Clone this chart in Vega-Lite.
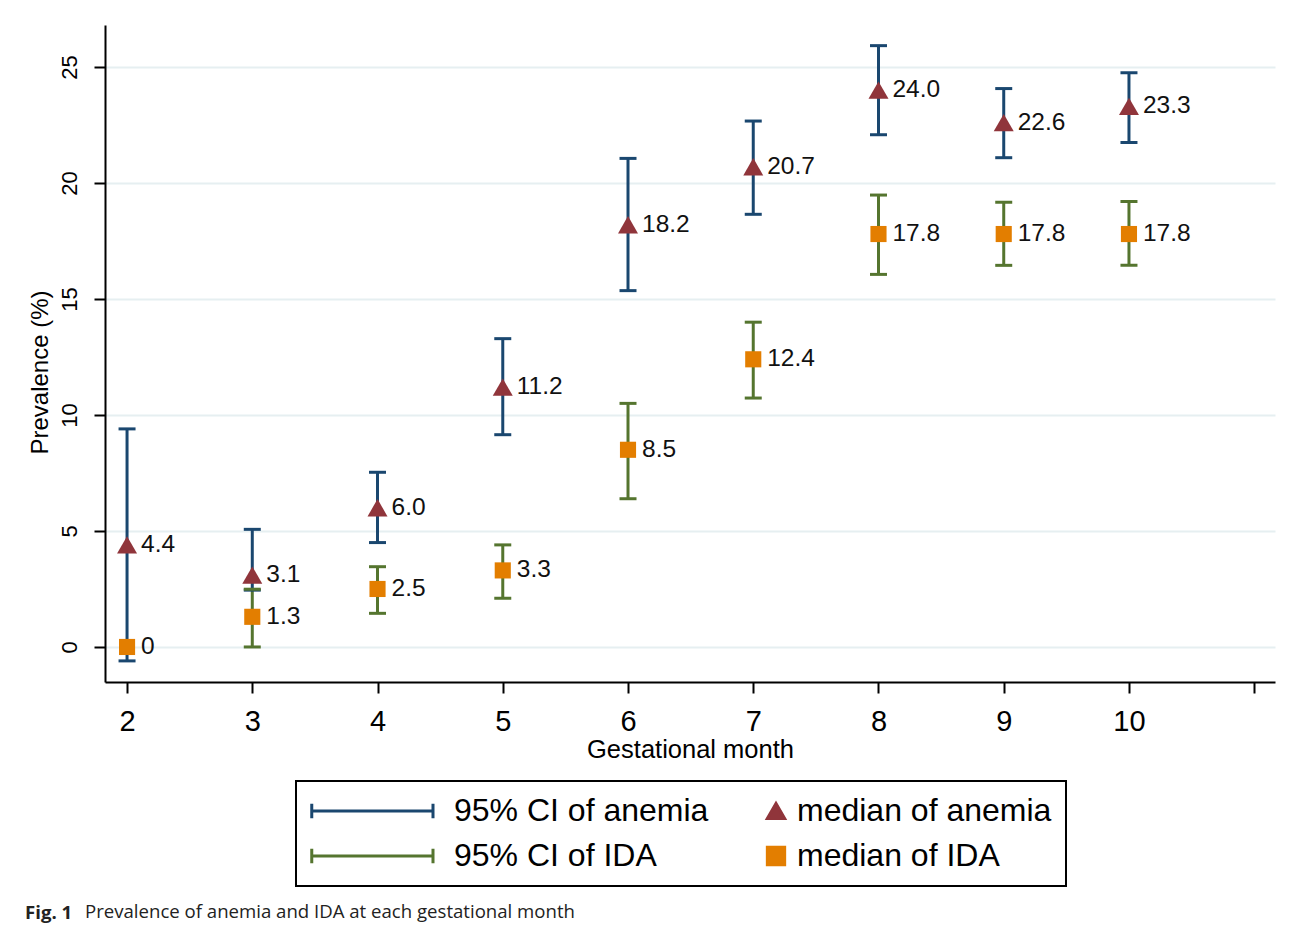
{
  "$schema": "https://vega.github.io/schema/vega-lite/v6.json",
  "width": 1170,
  "height": 657,
  "autosize": {"type": "none"},
  "padding": {"left": 105, "top": 25, "right": 17, "bottom": 250},
  "background": "white",
  "config": {"view": {"stroke": null}, "font": "Liberation Sans"},
  "title": {
    "text": "Fig. 1",
    "subtitle": "Prevalence of anemia and IDA at each gestational month",
    "orient": "bottom",
    "anchor": "start",
    "frame": "group",
    "font": "Open Sans",
    "fontSize": 18.6,
    "fontWeight": "bold",
    "color": "#222222",
    "subtitleFont": "Open Sans",
    "subtitleFontSize": 18.6,
    "subtitleFontWeight": "normal",
    "subtitleColor": "#222222",
    "subtitlePadding": -20,
    "offset": 17,
    "dx": -80,
    "encode": {"subtitle": {"update": {"dx": {"value": -20}}}}
  },
  "datasets": {
    "ci": [
      {"month": 2, "series": "95% CI of anemia", "lo": -0.6, "hi": 9.4},
      {"month": 3, "series": "95% CI of anemia", "lo": 2.45, "hi": 5.07},
      {"month": 4, "series": "95% CI of anemia", "lo": 4.5, "hi": 7.53},
      {"month": 5, "series": "95% CI of anemia", "lo": 9.15, "hi": 13.29},
      {"month": 6, "series": "95% CI of anemia", "lo": 15.36, "hi": 21.06},
      {"month": 7, "series": "95% CI of anemia", "lo": 18.65, "hi": 22.67},
      {"month": 8, "series": "95% CI of anemia", "lo": 22.08, "hi": 25.92},
      {"month": 9, "series": "95% CI of anemia", "lo": 21.09, "hi": 24.07},
      {"month": 10, "series": "95% CI of anemia", "lo": 21.74, "hi": 24.75},
      {"month": 3, "series": "95% CI of IDA", "lo": 0, "hi": 2.49},
      {"month": 4, "series": "95% CI of IDA", "lo": 1.45, "hi": 3.46},
      {"month": 5, "series": "95% CI of IDA", "lo": 2.1, "hi": 4.4},
      {"month": 6, "series": "95% CI of IDA", "lo": 6.39, "hi": 10.5},
      {"month": 7, "series": "95% CI of IDA", "lo": 10.73, "hi": 14.0},
      {"month": 8, "series": "95% CI of IDA", "lo": 16.06, "hi": 19.48},
      {"month": 9, "series": "95% CI of IDA", "lo": 16.45, "hi": 19.17},
      {"month": 10, "series": "95% CI of IDA", "lo": 16.45, "hi": 19.2}
    ],
    "med": [
      {"month": 2, "series": "median of anemia", "val": 4.4, "lab": "4.4"},
      {"month": 3, "series": "median of anemia", "val": 3.1, "lab": "3.1"},
      {"month": 4, "series": "median of anemia", "val": 6.0, "lab": "6.0"},
      {"month": 5, "series": "median of anemia", "val": 11.2, "lab": "11.2"},
      {"month": 6, "series": "median of anemia", "val": 18.2, "lab": "18.2"},
      {"month": 7, "series": "median of anemia", "val": 20.7, "lab": "20.7"},
      {"month": 8, "series": "median of anemia", "val": 24.0, "lab": "24.0"},
      {"month": 9, "series": "median of anemia", "val": 22.6, "lab": "22.6"},
      {"month": 10, "series": "median of anemia", "val": 23.3, "lab": "23.3"},
      {"month": 2, "series": "median of IDA", "val": 0, "lab": "0"},
      {"month": 3, "series": "median of IDA", "val": 1.3, "lab": "1.3"},
      {"month": 4, "series": "median of IDA", "val": 2.5, "lab": "2.5"},
      {"month": 5, "series": "median of IDA", "val": 3.3, "lab": "3.3"},
      {"month": 6, "series": "median of IDA", "val": 8.5, "lab": "8.5"},
      {"month": 7, "series": "median of IDA", "val": 12.4, "lab": "12.4"},
      {"month": 8, "series": "median of IDA", "val": 17.8, "lab": "17.8"},
      {"month": 9, "series": "median of IDA", "val": 17.8, "lab": "17.8"},
      {"month": 10, "series": "median of IDA", "val": 17.8, "lab": "17.8"}
    ]
  },
  "layer": [
    {
      "data": {"name": "ci"},
      "mark": {"type": "rule", "strokeWidth": 3},
      "encoding": {
        "x": {
          "field": "month", "type": "quantitative",
          "scale": {"domain": [1.824, 11.166], "nice": false, "zero": false},
          "axis": {
            "values": [2, 3, 4, 5, 6, 7, 8, 9, 10, 11],
            "labelExpr": "datum.value == 11 ? '' : format(datum.value, 'd')",
            "title": "Gestational month",
            "grid": false,
            "tickSize": 11, "tickWidth": 2, "tickColor": "black",
            "domainColor": "black", "domainWidth": 2,
            "labelFontSize": 29, "labelPadding": 14, "labelColor": "black", "labelFont": "Liberation Sans",
            "titleFontSize": 25.5, "titleFontWeight": "normal", "titleColor": "black", "titleFont": "Liberation Sans",
            "titleY": 75, "titleBaseline": "alphabetic"
          }
        },
        "y": {
          "field": "lo", "type": "quantitative",
          "scale": {"domain": [-1.51, 26.81], "nice": false, "zero": false},
          "axis": {
            "values": [0, 5, 10, 15, 20, 25],
            "title": "Prevalence (%)",
            "grid": true, "gridColor": "#e6eff1", "gridWidth": 2,
            "tickSize": 11, "tickWidth": 2, "tickColor": "black",
            "domainColor": "black", "domainWidth": 2,
            "labelAngle": -90, "labelAlign": "center", "labelBaseline": "bottom",
            "labelFontSize": 22, "labelPadding": 13, "labelColor": "black", "labelFont": "Liberation Sans",
            "titleFontSize": 24, "titleFontWeight": "normal", "titleColor": "black", "titleFont": "Liberation Sans",
            "titleAngle": -90, "titleX": -65, "titleY": 347, "titleAlign": "center", "titleBaseline": "middle"
          }
        },
        "y2": {"field": "hi"},
        "color": {
          "field": "series", "type": "nominal",
          "scale": {"domain": ["95% CI of anemia", "95% CI of IDA", "median of anemia", "median of IDA"], "range": ["#1a476f", "#55752f", "#90353b", "#e37e00"]},
          "legend": {
            "title": " ",
            "titleOrient": "left",
            "titleFontSize": 1,
            "titlePadding": 107,
            "orient": "none",
            "legendX": 191,
            "legendY": 756,
            "columns": 2,
            "symbolSize": 300,
            "symbolStrokeWidth": 3,
            "labelFontSize": 32,
            "labelFont": "Liberation Sans",
            "labelColor": "black",
            "labelOffset": 5,
            "labelLimit": 500,
            "rowPadding": 13,
            "columnPadding": 51,
            "padding": 14,
            "strokeColor": "black",
            "encode": {
              "legend": {"update": {"strokeWidth": {"value": 2}}},
              "symbols": {
                "update": {
                  "shape": {"scale": "shape", "field": "value"},
                  "size": {"value": 300},
                  "fill": {"scale": "color", "field": "value"},
                  "stroke": {"scale": "color", "field": "value"},
                  "strokeWidth": {"value": 3},
                  "opacity": {"value": 1}
                }
              }
            }
          }
        }
      }
    },
    {
      "data": {"name": "ci"},
      "mark": {"type": "tick", "orient": "horizontal", "size": 17, "thickness": 3, "opacity": 1},
      "encoding": {
        "x": {"field": "month", "type": "quantitative"},
        "y": {"field": "lo", "type": "quantitative"},
        "color": {"field": "series", "type": "nominal"}
      }
    },
    {
      "data": {"name": "ci"},
      "mark": {"type": "tick", "orient": "horizontal", "size": 17, "thickness": 3, "opacity": 1},
      "encoding": {
        "x": {"field": "month", "type": "quantitative"},
        "y": {"field": "hi", "type": "quantitative"},
        "color": {"field": "series", "type": "nominal"}
      }
    },
    {
      "data": {"name": "med"},
      "mark": {"type": "point", "filled": true, "opacity": 1},
      "encoding": {
        "x": {"field": "month", "type": "quantitative"},
        "y": {"field": "val", "type": "quantitative"},
        "color": {"field": "series", "type": "nominal"},
        "size": {
          "field": "series", "type": "nominal",
          "scale": {"domain": ["median of anemia", "median of IDA"], "range": [400, 260]},
          "legend": null
        },
        "shape": {
          "field": "series", "type": "nominal",
          "scale": {
            "domain": ["95% CI of anemia", "95% CI of IDA", "median of anemia", "median of IDA"],
            "range": [
              "M-14,-0.85L-14,0.85M-14,0L0,0M0,-0.85L0,0.85",
              "M-14,-0.85L-14,0.85M-14,0L0,0M0,-0.85L0,0.85",
              "triangle-up",
              "square"
            ]
          },
          "legend": {
            "title": " ",
            "titleOrient": "left",
            "titleFontSize": 1,
            "titlePadding": 107,
            "orient": "none",
            "legendX": 191,
            "legendY": 756,
            "columns": 2,
            "symbolSize": 300,
            "symbolStrokeWidth": 3,
            "labelFontSize": 32,
            "labelFont": "Liberation Sans",
            "labelColor": "black",
            "labelOffset": 5,
            "labelLimit": 500,
            "rowPadding": 13,
            "columnPadding": 51,
            "padding": 14,
            "strokeColor": "black"
          }
        }
      }
    },
    {
      "data": {"name": "med"},
      "mark": {"type": "text", "align": "left", "baseline": "middle", "dx": 14, "fontSize": 24.5, "font": "Liberation Sans", "color": "#111111"},
      "encoding": {
        "x": {"field": "month", "type": "quantitative"},
        "y": {"field": "val", "type": "quantitative"},
        "text": {"field": "lab"}
      }
    }
  ]
}
